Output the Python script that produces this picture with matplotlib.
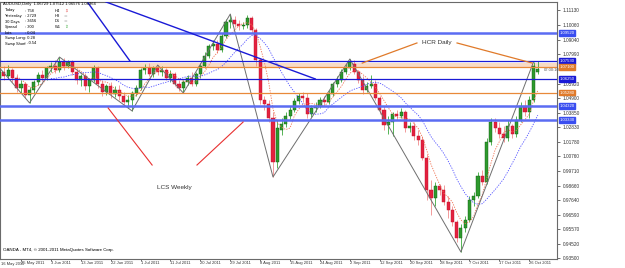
"""
AUDUSD Daily (MT4 screenshot) - velas diarias con lineas horizontales,
lineas de tendencia, zigzag y medias moviles.
"""

import numpy as np
import pandas as pd
import matplotlib
matplotlib.use("Agg")
import matplotlib.pyplot as plt
import matplotlib.transforms as mtransforms

plt.rcParams['font.family'] = ['Liberation Sans', 'DejaVu Sans']

# ===============================
# Datos (precios)
# ===============================
opens = [1.0632, 1.0674, 1.0646, 1.0689, 1.0632, 1.0561, 1.0589, 1.0511, 1.0546, 1.0603,
         1.0653, 1.0632, 1.0703, 1.0717, 1.0689, 1.0746, 1.0717, 1.0746, 1.0674, 1.0617,
         1.0646, 1.0575, 1.0617, 1.0703, 1.0589, 1.0532, 1.0575, 1.0518, 1.0546, 1.0504,
         1.0461, 1.0475, 1.0525, 1.0561, 1.0689, 1.0703, 1.0660, 1.0703, 1.0674, 1.0689,
         1.0632, 1.0660, 1.0589, 1.0561, 1.0603, 1.0632, 1.0589, 1.0660, 1.0717, 1.0788,
         1.0859, 1.0874, 1.0831, 1.0931, 1.1030, 1.1045, 1.1016, 1.1002, 1.1009, 1.1059,
         1.0973, 1.0760, 1.0475, 1.0446, 1.0347, 1.0034, 1.0261, 1.0304, 1.0361, 1.0404,
         1.0468, 1.0504, 1.0489, 1.0375, 1.0418, 1.0432, 1.0475, 1.0461, 1.0518, 1.0589,
         1.0617, 1.0674, 1.0703, 1.0731, 1.0674, 1.0617, 1.0546, 1.0575, 1.0589, 1.0489,
         1.0404, 1.0297, 1.0318, 1.0375, 1.0361, 1.0390, 1.0276, 1.0290, 1.0219, 1.0190,
         1.0062, 0.9834, 0.9777, 0.9863, 0.9834, 0.9749, 0.9692, 0.9606, 0.9492, 0.9564,
         0.9621, 0.9763, 0.9791, 0.9934, 0.9891, 1.0176, 1.0318, 1.0276, 1.0233, 1.0204,
         1.0290, 1.0233, 1.0333, 1.0432, 1.0390, 1.0475, 1.0673]
highs = [1.0703, 1.0717, 1.0724, 1.0703, 1.0660, 1.0617, 1.0603, 1.0568, 1.0617, 1.0674,
         1.0689, 1.0717, 1.0746, 1.0760, 1.0781, 1.0774, 1.0760, 1.0760, 1.0689, 1.0660,
         1.0667, 1.0632, 1.0724, 1.0717, 1.0617, 1.0589, 1.0603, 1.0575, 1.0582, 1.0532,
         1.0511, 1.0539, 1.0582, 1.0703, 1.0731, 1.0738, 1.0717, 1.0724, 1.0717, 1.0703,
         1.0689, 1.0674, 1.0617, 1.0617, 1.0653, 1.0674, 1.0674, 1.0738, 1.0817, 1.0874,
         1.0902, 1.0902, 1.0952, 1.1052, 1.1087, 1.1073, 1.1045, 1.1030, 1.1080, 1.1073,
         1.0988, 1.0774, 1.0504, 1.0475, 1.0390, 1.0333, 1.0347, 1.0390, 1.0432, 1.0489,
         1.0525, 1.0532, 1.0525, 1.0439, 1.0461, 1.0496, 1.0504, 1.0546, 1.0603, 1.0646,
         1.0696, 1.0731, 1.0767, 1.0760, 1.0689, 1.0646, 1.0603, 1.0653, 1.0617, 1.0504,
         1.0432, 1.0361, 1.0390, 1.0404, 1.0418, 1.0404, 1.0318, 1.0318, 1.0261, 1.0219,
         1.0090, 0.9905, 0.9891, 0.9877, 0.9870, 0.9791, 0.9720, 0.9621, 0.9592, 0.9649,
         0.9791, 0.9820, 0.9962, 0.9977, 1.0204, 1.0347, 1.0347, 1.0318, 1.0290, 1.0333,
         1.0304, 1.0361, 1.0461, 1.0475, 1.0503, 1.0746, 1.0751]
lows = [1.0603, 1.0617, 1.0625, 1.0603, 1.0532, 1.0525, 1.0489, 1.0454, 1.0525, 1.0582,
        1.0610, 1.0617, 1.0674, 1.0667, 1.0674, 1.0689, 1.0703, 1.0653, 1.0589, 1.0575,
        1.0546, 1.0532, 1.0603, 1.0561, 1.0504, 1.0511, 1.0489, 1.0496, 1.0475, 1.0432,
        1.0418, 1.0397, 1.0504, 1.0546, 1.0660, 1.0646, 1.0639, 1.0653, 1.0646, 1.0617,
        1.0603, 1.0575, 1.0539, 1.0525, 1.0582, 1.0575, 1.0575, 1.0632, 1.0703, 1.0774,
        1.0831, 1.0810, 1.0817, 1.0916, 1.0988, 1.0995, 1.0973, 1.0981, 1.0988, 1.0952,
        1.0717, 1.0446, 1.0404, 1.0318, 0.9927, 0.9991, 1.0226, 1.0283, 1.0340, 1.0390,
        1.0446, 1.0461, 1.0347, 1.0354, 1.0390, 1.0418, 1.0439, 1.0446, 1.0504, 1.0568,
        1.0603, 1.0660, 1.0689, 1.0660, 1.0596, 1.0518, 1.0532, 1.0561, 1.0475, 1.0375,
        1.0261, 1.0233, 1.0219, 1.0333, 1.0347, 1.0247, 1.0247, 1.0190, 1.0155, 1.0048,
        0.9763, 0.9656, 0.9720, 0.9799, 0.9727, 0.9635, 0.9578, 0.9464, 0.9393, 0.9535,
        0.9606, 0.9720, 0.9777, 0.9870, 0.9877, 1.0155, 1.0247, 1.0204, 1.0176, 1.0183,
        1.0204, 1.0212, 1.0318, 1.0361, 1.0347, 1.0461, 1.0658]
closes = [1.0674, 1.0646, 1.0689, 1.0632, 1.0561, 1.0589, 1.0511, 1.0546, 1.0603, 1.0653,
          1.0632, 1.0703, 1.0717, 1.0689, 1.0746, 1.0717, 1.0746, 1.0674, 1.0617, 1.0646,
          1.0575, 1.0617, 1.0703, 1.0589, 1.0532, 1.0575, 1.0518, 1.0546, 1.0504, 1.0461,
          1.0475, 1.0525, 1.0561, 1.0689, 1.0703, 1.0660, 1.0703, 1.0674, 1.0689, 1.0632,
          1.0660, 1.0589, 1.0561, 1.0603, 1.0632, 1.0589, 1.0660, 1.0717, 1.0788, 1.0859,
          1.0874, 1.0831, 1.0931, 1.1030, 1.1045, 1.1016, 1.1002, 1.1009, 1.1059, 1.0973,
          1.0760, 1.0475, 1.0446, 1.0347, 1.0034, 1.0276, 1.0304, 1.0361, 1.0404, 1.0468,
          1.0504, 1.0489, 1.0375, 1.0418, 1.0432, 1.0475, 1.0461, 1.0518, 1.0589, 1.0617,
          1.0674, 1.0703, 1.0746, 1.0674, 1.0617, 1.0546, 1.0575, 1.0589, 1.0489, 1.0404,
          1.0297, 1.0318, 1.0375, 1.0361, 1.0390, 1.0276, 1.0290, 1.0219, 1.0190, 1.0062,
          0.9834, 0.9777, 0.9863, 0.9834, 0.9749, 0.9692, 0.9606, 0.9492, 0.9564, 0.9621,
          0.9763, 0.9791, 0.9934, 0.9891, 1.0176, 1.0318, 1.0276, 1.0233, 1.0204, 1.0290,
          1.0233, 1.0333, 1.0432, 1.0390, 1.0475, 1.0717, 1.0696]

# pivotes del zigzag (indice de vela, 'H' maximo / 'L' minimo)
zigzag_idx = [0, 7, 14, 31, 37, 43, 54, 64, 82, 108, 125]
zigzag_kind = ['H', 'L', 'H', 'L', 'H', 'L', 'H', 'L', 'H', 'L', 'H']

# lineas horizontales (precio, color, grosor)
hline_prices = [1.0952, 1.0753, 1.0710, 1.0625, 1.0528, 1.0432, 1.0333]
hline_colors = ['#5b6cf2', '#1a1ad6', '#e8893a', '#1a1ad6', '#e8893a', '#5b6cf2', '#5b6cf2']
hline_widths = [1.8, 0.9, 0.9, 0.9, 0.9, 1.8, 1.8]
band_low, band_high = 1.0703, 1.0738

# lineas de tendencia ((x0, p0), (x1, p1)) en indice de vela
blue_trends = [((20.7, 1.1166), (30.5, 1.0753)), ((24.9, 1.1173), (73.9, 1.0625))]
red_trends = [((25.4, 1.0418), (35.7, 1.0012)), ((46.2, 1.0012), (57.0, 1.0318))]
orange_trends = [((84.9, 1.0738), (97.7, 1.0881)), ((107.1, 1.0881), (124.7, 1.0738))]

# eje de precios (1.06970 queda tapado por la etiqueta naranja)
price_ticks = [0.93500, 0.94520, 0.95570, 0.96590, 0.97640, 0.98660, 0.99710, 1.00760,
               1.01780, 1.02830, 1.03850, 1.04900, 1.05920, 1.07990, 1.09040,
               1.10060, 1.11130]

# eje de fechas
date_labels = ['25 May 2011', '3 Jun 2011', '13 Jun 2011', '22 Jun 2011', '1 Jul 2011',
               '11 Jul 2011', '20 Jul 2011', '29 Jul 2011', '8 Aug 2011', '15 Aug 2011',
               '24 Aug 2011', '2 Sep 2011', '12 Sep 2011', '20 Sep 2011', '28 Sep 2011',
               '7 Oct 2011', '17 Oct 2011', '26 Oct 2011']
first_date_label = '16 May 2011'

info_rows = [('Today', '758', 'H4', '\u21e9', '#e02020'),
             ('Yesterday', '2729', 'H8', '=', '#808080'),
             ('30 Days', '3656', 'D1', '=', '#808080'),
             ('Spread', '300', 'W1', '\u21e7', '#20a020'),
             ('Lots', '0.04', '', '', 'k'),
             ('Swap Long', '0.28', '', '', 'k'),
             ('Swap Short', '-0.54', '', '', 'k')]

# ===============================
# Figura
# ===============================
W, H = 625, 268
fig = plt.figure(figsize=(W / 100, H / 100), dpi=100)
fig.patch.set_facecolor('white')
ax = fig.add_axes([0, 9 / H, 557 / W, 257 / H])

n = len(closes)
idx = np.arange(n)
o = np.array(opens); c = np.array(closes)
hi = np.array(highs); lo = np.array(lows)
up = c >= o

# --- velas ---
ax.vlines(idx[up], lo[up], hi[up], colors='#3aa83a', linewidth=0.6, zorder=2)
ax.vlines(idx[~up], lo[~up], hi[~up], colors='#f08a8a', linewidth=0.6, zorder=2)
body = np.maximum(np.abs(c - o), 0.0003)
ax.bar(idx[up], body[up], bottom=o[up], width=0.72, color='#2e9a2e',
       edgecolor='#0d5a0d', linewidth=0.3, zorder=3)
ax.bar(idx[~up], body[~up], bottom=c[~up], width=0.72, color='#e3213f',
       edgecolor='#c0102a', linewidth=0.3, zorder=3)

# --- medias moviles ---
ma_fast = pd.Series(closes).rolling(5).mean()
ma_slow = pd.Series(closes).rolling(13).mean()
ax.plot(idx, ma_fast, color='#f07050', linestyle=(0, (1.5, 1.5)), linewidth=0.6, zorder=4)
ax.plot(idx, ma_slow, color='#5050ff', linestyle=(0, (1.5, 1.5)), linewidth=0.6, zorder=4)

# --- zigzag ---
zz_p = [highs[i] if k == 'H' else lows[i] for i, k in zip(zigzag_idx, zigzag_kind)]
ax.plot(zigzag_idx, zz_p, color='#6e6e6e', linewidth=0.7, zorder=5)

# --- lineas horizontales ---
ax.axhspan(band_low, band_high, color='#f7d2b8', alpha=0.8, zorder=1, linewidth=0)
for p, col, lw in zip(hline_prices, hline_colors, hline_widths):
    ax.axhline(p, color=col, linewidth=lw, zorder=6)

# --- lineas de tendencia ---
for (x0, p0), (x1, p1) in blue_trends:
    ax.plot([x0, x1], [p0, p1], color='#1a1ad6', linewidth=1.0, zorder=6)
for (x0, p0), (x1, p1) in red_trends:
    ax.plot([x0, x1], [p0, p1], color='#e83030', linewidth=0.8, zorder=6)
for (x0, p0), (x1, p1) in orange_trends:
    ax.plot([x0, x1], [p0, p1], color='#e07a2a', linewidth=0.9, zorder=6)

ax.text(102.3, 1.0881, 'HCR Daily', fontsize=4.6, color='#333333', ha='center', va='center')
ax.text(40.8, 0.9850, 'LCS Weekly', fontsize=4.6, color='#333333', ha='center', va='center')
ax.text(127.5, 1.0688, '07:00:10', fontsize=3.0, color='#555555', ha='left', va='center')

# --- ejes ---
ax.set_xlim(0.08, 130.5)
ax.set_ylim(0.93429, 1.11728)
for s in ax.spines.values():
    s.set_color('#6a6a6a')
    s.set_linewidth(0.8)

ax.yaxis.tick_right()
ax.set_yticks(price_ticks)
ax.set_yticklabels([f'{t:.5f}' for t in price_ticks])
ax.tick_params(axis='y', labelsize=3.4, length=2, width=0.5, pad=2, colors='#333333')

ax.set_xticks(np.arange(5, 5 + 7 * len(date_labels), 7))
ax.set_xticklabels(date_labels)
ax.tick_params(axis='x', labelsize=3.0, length=1.2, width=0.5, pad=0.4, colors='#333333')
for lbl in ax.get_xticklabels():
    lbl.set_ha('left')
ax.text(0.001, -0.0115, first_date_label, transform=ax.transAxes, fontsize=2.9,
        color='#333333', ha='left', va='top')

# etiquetas de lineas en el eje de precios
trans = mtransforms.blended_transform_factory(ax.transAxes, ax.transData)
label_colors = ['#3a4ef0', '#1a1ad6', '#e07a2a', '#1a1ad6', '#e07a2a', '#3a4ef0', '#3a4ef0']
for p, col in zip(hline_prices, label_colors):
    ax.text(1.004, p, f'{p:.5f}', transform=trans, fontsize=3.1, color='white',
            ha='left', va='center', zorder=10, clip_on=False,
            bbox=dict(boxstyle='square,pad=0.15', fc=col, ec=col))

# --- textos informativos ---
fig.text(3 / W, 1 - 4.5 / H, 'AUDUSD,Daily  1.06729 1.07512 1.06576 1.06964',
         fontsize=3.0, color='black', ha='left', va='center')
for r, (name, val, tf, sym, scol) in enumerate(info_rows):
    yy = 1 - (10.5 + 5.5 * r) / H
    fig.text(5 / W, yy, name, fontsize=2.9, ha='left', va='center')
    fig.text(25 / W, yy, ': ' + val, fontsize=2.9, ha='left', va='center')
    if tf:
        fig.text(55 / W, yy, tf, fontsize=2.9, ha='left', va='center')
        fig.text(64 / W, yy, sym, fontsize=3.2, color=scol, ha='left', va='center',
                 family=['DejaVu Sans'])
fig.text(3 / W, 1 - 250 / H, 'OANDA - MT4, \u00a9 2001-2011 MetaQuotes Software Corp.',
         fontsize=3.2, color='black', ha='left', va='center')

fig.savefig('out.png', dpi=100, facecolor='white')
